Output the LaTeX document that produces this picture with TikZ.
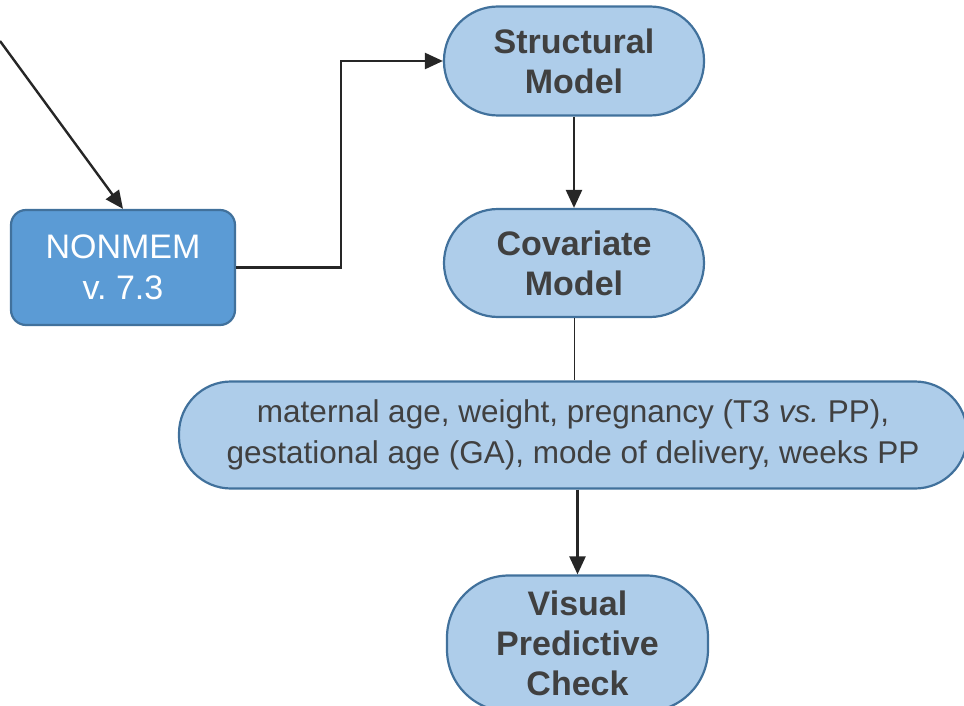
\documentclass[tikz,border=0pt]{standalone}
\usepackage{fontspec}
\setmainfont{Liberation Sans}
\usetikzlibrary{arrows.meta}

\definecolor{stagefill}{HTML}{AECDEA}
\definecolor{stageline}{HTML}{41719C}
\definecolor{toolfill}{HTML}{5B9BD5}
\definecolor{textgray}{HTML}{404040}
\definecolor{arrowgray}{HTML}{262626}

\tikzset{
	stage/.style={draw=stageline, line width=2.2pt, fill=stagefill, text=textgray, align=center, inner sep=0pt,
		font=\fontsize{34}{40}\selectfont\bfseries},
	tool/.style={draw=stageline, line width=2.2pt, fill=toolfill, text=white, align=center, inner sep=0pt,
		rounded corners=15pt, font=\fontsize{34}{41}\selectfont},
	flow/.style={draw=arrowgray, line width=2.4pt, -{Triangle[length=18pt,width=16pt]}},
}

\begin{document}
\begin{tikzpicture}[x=1pt,y=-1pt]
		\useasboundingbox (0,0) rectangle (964,706);
		\node[tool, minimum width=224pt, minimum height=115pt] (nonmem) at (123,267.5) {NONMEM\\v.\ 7.3};
		\node[stage, minimum width=260pt, minimum height=109pt, rounded corners=54pt] (struct) at (574,61) {Structural\\Model};
		\node[stage, minimum width=260pt, minimum height=108pt, rounded corners=54pt] (covmod) at (574,263) {Covariate\\Model};
		\node[stage, minimum width=788pt, minimum height=107pt, rounded corners=52pt,
			font=\fontsize{31.5}{41}\selectfont] (covlist) at (573,435)
			{maternal age, weight, pregnancy (T3 \textit{vs.}\ PP),\\gestational age (GA), mode of delivery, weeks PP};
		\node[stage, minimum width=261pt, minimum height=136pt, rounded corners=62pt] (vpc) at (577.5,643.5) {Visual\\Predictive\\Check};
		\coordinate (data) at (0,41);
		% connectors
		\draw[flow] (data) -- (nonmem.north);
		\draw[flow] (nonmem.east) -- ++(105,0) |- (struct.west);
		\draw[flow] (struct.south) -- (covmod.north);
		\draw[draw=arrowgray, line width=0.8pt] (covmod.south) -- (covmod.south |- covlist.north);
		\draw[flow] (vpc.north |- covlist.south) -- (vpc.north);
\end{tikzpicture}
\end{document}
